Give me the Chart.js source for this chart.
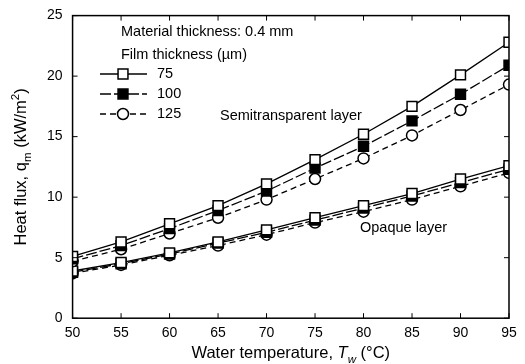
<!DOCTYPE html>
<html>
<head>
<meta charset="utf-8">
<script src="https://cdn.jsdelivr.net/npm/chart.js@4.4.1/dist/chart.umd.min.js"></script>
<style>
  html, body { margin: 0; padding: 0; background: #fff; }
  #wrap { width: 525px; height: 364px; }
</style>
</head>
<body>
<div id="wrap"><canvas id="flux"></canvas></div>
<script>
const temps = [50, 55, 60, 65, 70, 75, 80, 85, 90, 95];
const filmLabels = ["75", "100", "125"];

// semitransparent layer
const semi75 = [5.1, 6.3, 7.8, 9.3, 11.1, 13.1, 15.2, 17.5, 20.1, 22.8];
const semi100 = [4.9, 6.0, 7.4, 8.9, 10.5, 12.4, 14.2, 16.3, 18.5, 20.9];
const semi125 = [4.7, 5.7, 7.0, 8.3, 9.8, 11.5, 13.2, 15.1, 17.2, 19.3];

// opaque layer
const opaque75 = [3.9, 4.6, 5.4, 6.3, 7.3, 8.3, 9.3, 10.3, 11.5, 12.6];
const opaque100 = [3.8, 4.5, 5.3, 6.2, 7.1, 8.1, 9.1, 10.1, 11.2, 12.3];
const opaque125 = [3.7, 4.4, 5.2, 6.0, 6.9, 7.9, 8.8, 9.8, 10.9, 12.0];

const xTicks = [50, 55, 60, 65, 70, 75, 80, 85, 90, 95];
const yTicks = [0, 5, 10, 15, 20, 25];

const font = "'Liberation Sans', Arial, sans-serif";

const styles = [
  { dash: [], style: "rect", fill: "#fff", r: 7 },
  { dash: [11, 3], style: "rect", fill: "#000", r: 7 },
  { dash: [6, 4], style: "circle", fill: "#fff", r: 5.5 },
];

function makeSet(values, i) {
  const s = styles[i];
  return {
    data: values.map((v, k) => ({ x: temps[k], y: v })),
    borderColor: "#000",
    borderWidth: 1.3,
    borderDash: s.dash,
    pointStyle: s.style,
    pointRadius: s.r,
    pointBorderWidth: 1.5,
    pointBackgroundColor: s.fill,
    pointBorderColor: "#000",
    tension: 0,
    fill: false,
  };
}

// text pieces: [text, italic, shift(0 normal, 1 sub, -1 sup)]
function setFont(ctx, p, size) {
  const small = p[2] !== 0;
  ctx.font = (p[1] ? "italic " : "") + (small ? size * 0.7 : size) + "px " + font;
}
function drawRich(ctx, parts, x, y, size) {
  let cx = x;
  parts.forEach(function (p) {
    setFont(ctx, p, size);
    const dy = p[2] === 1 ? size * 0.3 : p[2] === -1 ? -size * 0.4 : 0;
    ctx.fillText(p[0], cx, y + dy);
    cx += ctx.measureText(p[0]).width;
  });
}
function richWidth(ctx, parts, size) {
  let w = 0;
  parts.forEach(function (p) {
    setFont(ctx, p, size);
    w += ctx.measureText(p[0]).width;
  });
  return w;
}

const xTitle = [["Water temperature, ", false, 0], ["T", true, 0], ["w", true, 1], [" (\u00b0C)", false, 0]];
const yTitle = [["Heat flux, q", false, 0], ["m", false, 1], [" (kW/m", false, 0], ["2", false, -1], [")", false, 0]];

// draws box, inward ticks, titles, legend and labels
const decor = {
  id: "decor",
  afterDatasetsDraw(chart) {
    const ctx = chart.ctx;
    const a = chart.chartArea;
    const xs = chart.scales.x;
    const ys = chart.scales.y;
    ctx.save();
    ctx.strokeStyle = "#000";
    ctx.lineWidth = 1.5;
    ctx.strokeRect(a.left, a.top, a.right - a.left, a.bottom - a.top);
    ctx.lineWidth = 1;
    ctx.beginPath();
    xTicks.forEach(function (t) {
      const px = xs.getPixelForValue(t);
      ctx.moveTo(px, a.bottom); ctx.lineTo(px, a.bottom - 5);
      ctx.moveTo(px, a.top); ctx.lineTo(px, a.top + 5);
    });
    yTicks.forEach(function (t) {
      const py = ys.getPixelForValue(t);
      ctx.moveTo(a.left, py); ctx.lineTo(a.left + 5, py);
      ctx.moveTo(a.right, py); ctx.lineTo(a.right - 5, py);
    });
    ctx.stroke();

    ctx.fillStyle = "#000";
    ctx.textBaseline = "alphabetic";
    ctx.textAlign = "left";

    // axis titles
    const tw = richWidth(ctx, xTitle, 16.5);
    drawRich(ctx, xTitle, (a.left + a.right) / 2 - tw / 2, 358, 16.5);
    ctx.save();
    ctx.translate(26, (a.top + a.bottom) / 2);
    ctx.rotate(-Math.PI / 2);
    const yw = richWidth(ctx, yTitle, 16.5);
    drawRich(ctx, yTitle, -yw / 2, 0, 16.5);
    ctx.restore();

    ctx.textBaseline = "middle";
    ctx.font = "14.5px " + font;
    ctx.fillText("Material thickness: 0.4 mm", 121, 32);
    ctx.fillText("Film thickness (\u00b5m)", 121, 55);

    for (let i = 0; i < 3; i++) {
      const ds = chart.data.datasets[i];
      const y = 74 + i * 20;
      ctx.strokeStyle = "#000";
      ctx.setLineDash(ds.borderDash);
      ctx.lineWidth = 1.3;
      ctx.beginPath();
      ctx.moveTo(100, y);
      ctx.lineTo(147, y);
      ctx.stroke();
      ctx.setLineDash([]);
      ctx.fillStyle = ds.pointBackgroundColor;
      ctx.lineWidth = ds.pointBorderWidth;
      Chart.helpers.drawPoint(ctx, {
        pointStyle: ds.pointStyle,
        radius: ds.pointRadius,
        rotation: 0,
        borderWidth: ds.pointBorderWidth,
      }, 123, y);
      ctx.fillStyle = "#000";
      ctx.font = "14.5px " + font;
      ctx.fillText(filmLabels[i], 157, y);
    }

    ctx.font = "14.5px " + font;
    ctx.fillText("Semitransparent layer", 220, 116);
    ctx.fillText("Opaque layer", 360, 228);
    ctx.restore();
  },
};

new Chart("flux", {
  type: "line",
  data: {
    datasets: [
      makeSet(semi75, 0),
      makeSet(semi100, 1),
      makeSet(semi125, 2),
      makeSet(opaque75, 0),
      makeSet(opaque100, 1),
      makeSet(opaque125, 2),
    ],
  },
  options: {
    responsive: true,
    maintainAspectRatio: false,
    animation: false,
    events: [],
    layout: { padding: { top: 11, right: 16, bottom: 15, left: 37 } },
    plugins: { legend: { display: false }, tooltip: { enabled: false } },
    scales: {
      x: {
        type: "linear",
        min: 50,
        max: 95,
        grid: { display: false, drawTicks: false },
        border: { display: false },
        afterBuildTicks(s) { s.ticks = xTicks.map((v) => ({ value: v })); },
        ticks: { color: "#000", font: { family: font, size: 14 }, padding: 7, maxRotation: 0 },
      },
      y: {
        min: 0,
        max: 25,
        grid: { display: false, drawTicks: false },
        border: { display: false },
        afterBuildTicks(s) { s.ticks = yTicks.map((v) => ({ value: v })); },
        ticks: { color: "#000", font: { family: font, size: 14, lineHeight: 0.8 }, padding: 10 },
      },
    },
  },
  plugins: [decor],
});
</script>
</body>
</html>
